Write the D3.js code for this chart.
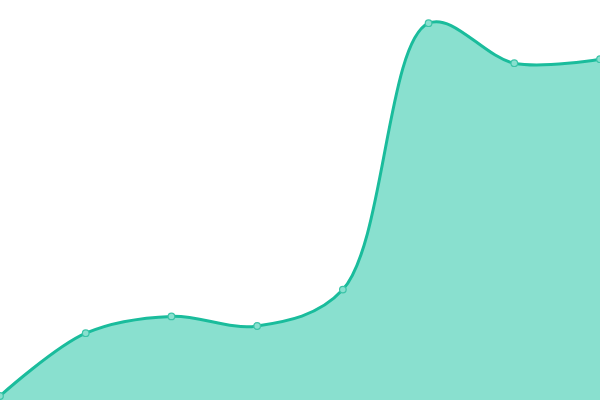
<!DOCTYPE html>
<html>
<head>
<meta charset="utf-8">
<script src="https://cdn.jsdelivr.net/npm/d3@7"></script>
<style>
  body { margin: 0; background: #fff; }
  svg { display: block; }
</style>
</head>
<body>
<svg id="chart" width="600" height="400"></svg>
<script>
// values
const labels = ["1", "2", "3", "4", "5", "6", "7", "8"];
const values = [1, 16.7, 20.9, 18.5, 27.6, 94.2, 84.2, 85.2];

const svg = d3.select("#chart"),
      width = +svg.attr("width"),
      height = +svg.attr("height");

const x = d3.scalePoint()
    .domain(labels)
    .range([0, width]);

const y = d3.scaleLinear()
    .domain([0, 100])
    .range([height, 0]);

const curve = d3.curveCatmullRom;

// filled area
svg.append("path")
    .datum(values)
    .attr("fill", "#89e0cf")
    .attr("d", d3.area()
        .x((d, i) => x(labels[i]))
        .y0(height)
        .y1(d => y(d))
        .curve(curve));

// line on top
svg.append("path")
    .datum(values)
    .attr("fill", "none")
    .attr("stroke", "#1abc9c")
    .attr("stroke-width", 3)
    .attr("d", d3.line()
        .x((d, i) => x(labels[i]))
        .y(d => y(d))
        .curve(curve));

// points
svg.append("g")
  .selectAll("circle")
  .data(values)
  .enter()
  .append("circle")
    .attr("cx", (d, i) => x(labels[i]))
    .attr("cy", d => y(d))
    .attr("r", 3.3)
    .attr("fill", "#89e0cf")
    .attr("stroke", "#3cc4a8")
    .attr("stroke-width", 1.2);
</script>
</body>
</html>
